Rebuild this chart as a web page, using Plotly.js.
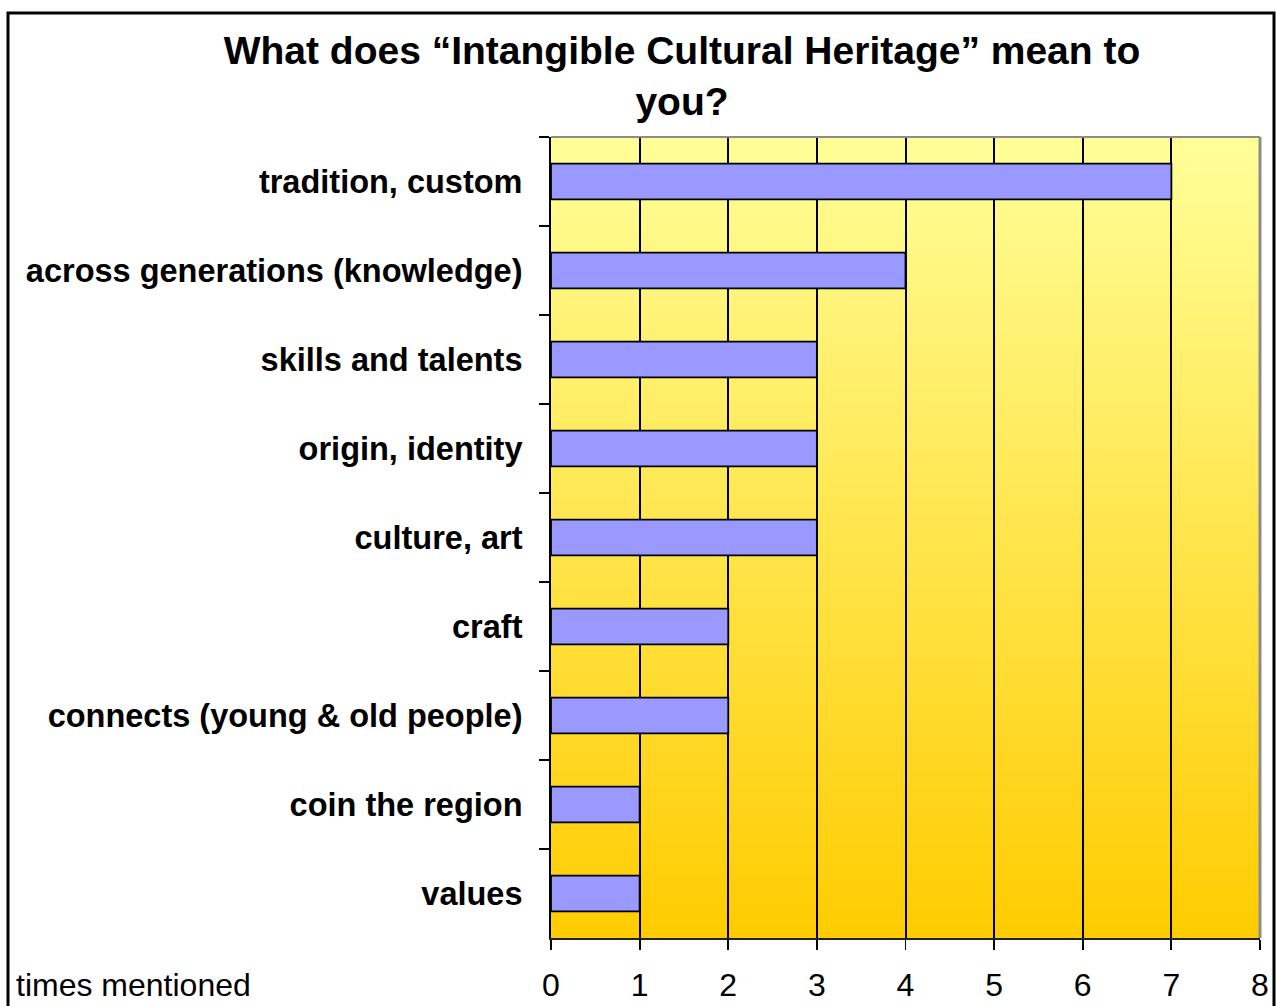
<!DOCTYPE html>
<html>
<head>
<meta charset="utf-8">
<script src="https://cdn.plot.ly/plotly-3.0.1.min.js"></script>
<style>
html,body{margin:0;padding:0;background:#fff;}
#chart{width:1276px;height:1006px;}
</style>
</head>
<body>
<div id="chart"></div>
<script>
// Data (top to bottom as shown)
const categories = [
  "tradition, custom",
  "across generations (knowledge)",
  "skills and talents",
  "origin, identity",
  "culture, art",
  "craft",
  "connects (young & old people)",
  "coin the region",
  "values"
];
const timesMentioned = [7, 4, 3, 3, 3, 2, 2, 1, 1];
const xTickValues = [0, 1, 2, 3, 4, 5, 6, 7, 8];
const chartTitle = "What does \u201cIntangible Cultural Heritage\u201d mean to<br>you?";
const axisNote = "times mentioned";

// Gradient background image for the plot area
function gradientURL() {
  const c = document.createElement('canvas');
  c.width = 4; c.height = 512;
  const g = c.getContext('2d');
  const grd = g.createLinearGradient(0, 0, 0, 512);
  grd.addColorStop(0, '#FFFF99');
  grd.addColorStop(1, '#FFCC00');
  g.fillStyle = grd;
  g.fillRect(0, 0, 4, 512);
  return c.toDataURL('image/png');
}

const FONT = "Liberation Sans, Arial, Helvetica, sans-serif";
const W = 1276, H = 1006;
const L = 551, R = 16, T = 137, B = 68;
const pw = W - L - R, ph = H - T - B;
const px2x = p => (p - L) / pw;
const py2y = p => (H - B - p) / ph;

const trace = {
  type: 'bar',
  orientation: 'h',
  x: timesMentioned,
  y: categories,
  width: 0.4,
  marker: {color: '#9999FF', line: {color: '#000000', width: 1.8}},
  hoverinfo: 'x+y'
};

const layout = {
  width: W, height: H,
  margin: {l: L, r: R, t: T, b: B, pad: 0},
  paper_bgcolor: '#FFFFFF',
  plot_bgcolor: 'rgba(0,0,0,0)',
  font: {family: FONT, color: '#000000'},
  showlegend: false,
  title: {
    text: chartTitle,
    font: {family: FONT, size: 39, color: '#000000', weight: 'bold'},
    x: 682 / W, xref: 'container', xanchor: 'center',
    y: 1 - 64 / H, yref: 'container', yanchor: 'top'
  },
  xaxis: {
    range: [0, 8],
    tickvals: xTickValues,
    ticktext: xTickValues.map(String),
    ticks: 'outside', ticklen: 10, tickwidth: 1.8, tickcolor: '#000000',
    showgrid: true, gridcolor: '#000000', gridwidth: 2,
    zeroline: false,
    showline: true, linecolor: '#222222', linewidth: 2,
    tickfont: {family: FONT, size: 32, color: '#000000'},
    ticklabelstandoff: 8,
    fixedrange: true
  },
  yaxis: {
    type: 'category',
    categoryorder: 'array',
    categoryarray: categories,
    autorange: 'reversed',
    tickson: 'boundaries',
    ticks: 'outside', ticklen: 10, tickwidth: 1.8, tickcolor: '#000000',
    showgrid: false, zeroline: false,
    showline: true, linecolor: '#000000', linewidth: 2,
    tickfont: {family: FONT, size: 32.5, color: '#000000', weight: 'bold'},
    ticklabelstandoff: 20,
    fixedrange: true
  },
  images: [{
    source: gradientURL(),
    xref: 'paper', yref: 'paper',
    x: 0, y: 1, sizex: 1, sizey: 1,
    sizing: 'stretch', xanchor: 'left', yanchor: 'top',
    layer: 'below'
  }],
  shapes: [
    // gray plot frame top and right
    {type: 'line', xref: 'paper', yref: 'paper', x0: 0, x1: 1, y0: 1, y1: 1,
     line: {color: '#8C8C8C', width: 2}, layer: 'above'},
    {type: 'line', xref: 'paper', yref: 'paper', x0: 1, x1: 1, y0: 0, y1: 1,
     line: {color: '#8C8C8C', width: 3}, layer: 'above'},
    // outer chart border
    {type: 'rect', xref: 'paper', yref: 'paper',
     x0: px2x(8), x1: px2x(1274), y0: py2y(1020), y1: py2y(13),
     line: {color: '#000000', width: 3}, fillcolor: 'rgba(0,0,0,0)', layer: 'above'}
  ],
  annotations: [{
    text: axisNote, showarrow: false,
    xref: 'paper', yref: 'paper',
    x: px2x(14), y: py2y(985), xanchor: 'left', yanchor: 'middle',
    font: {family: FONT, size: 32, color: '#000000'}
  }]
};

Plotly.newPlot('chart', [trace], layout, {displayModeBar: false, staticPlot: true});
</script>
</body>
</html>
